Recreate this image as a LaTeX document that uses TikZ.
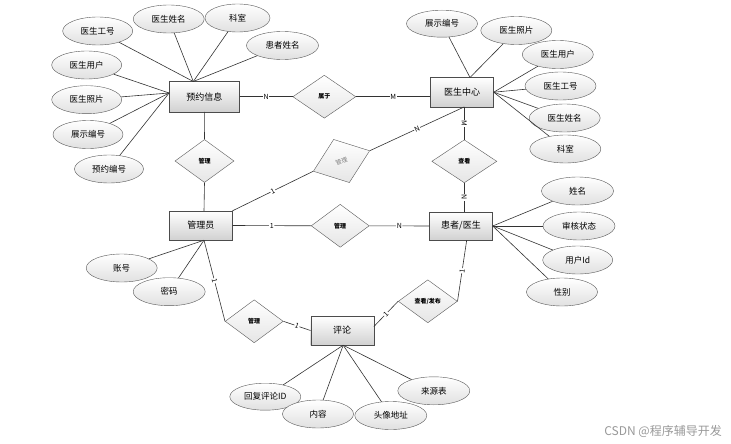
\documentclass[tikz,border=0pt]{standalone}
\usepackage{fontspec}
\setmainfont{Noto Sans CJK SC}
\usetikzlibrary{shapes.geometric,calc}
\tikzset{
  ent/.style={draw=black!70, top color=white, bottom color=black!18, minimum width=63pt, minimum height=29pt, inner sep=0pt, font=\fontsize{9}{9}\selectfont},
  attr/.style={ellipse, draw=black!65, top color=white, bottom color=black!12, minimum width=71pt, minimum height=28pt, inner sep=0pt, font=\fontsize{8.5}{9}\selectfont},
  rel/.style={diamond, draw=black!65, top color=white, bottom color=black!10, minimum width=59pt, minimum height=43pt, inner sep=0pt, font=\fontsize{6}{6}\selectfont\bfseries},
  lnk/.style={draw=black!80, line width=0.6pt},
  card/.style={fill=white, inner sep=0.6pt, font=\fontsize{7}{7}\selectfont, sloped}
}
\begin{document}
\begin{tikzpicture}[x=1pt,y=-1pt]
\fill[white] (0,0) rectangle (731,444);
\useasboundingbox (0,0) rectangle (731,444);

% entities
\node[ent, minimum width=70pt, minimum height=30pt] (yy) at (204.3,96.7) {预约信息};
\node[ent] (zx) at (462,92.2) {医生中心};
\node[ent] (gly) at (200.8,225.5) {管理员};
\node[ent, minimum height=28pt] (hz) at (461,226) {患者/医生};
\node[ent] (pl) at (342.2,330.5) {评论};

% relationships
\node[rel] (d1) at (204.5,161) {管理};
\node[rel, minimum width=63pt] (sy) at (324.3,96.7) {属于};
\node[rel, minimum width=60pt, minimum height=46pt, rotate=20, text=black!50, font=\fontsize{6}{6}\selectfont] (d2) at (341.5,161) {管理};
\node[rel, minimum width=65pt] (ck) at (464.3,161.3) {查看};
\node[rel, minimum width=58pt] (d3) at (340.2,225.8) {管理};
\node[rel] (ckfb) at (427.8,301.3) {查看/发布};
\node[rel, minimum width=58pt] (d4) at (254.2,321.3) {管理};

% attributes of 预约信息
\node[attr, minimum width=70pt] (a1) at (97.7,31) {医生工号};
\node[attr] (a2) at (168.7,19) {医生姓名};
\node[attr, minimum width=65pt] (a3) at (237.5,18) {科室};
\node[attr, minimum width=72pt] (a4) at (282.5,45.5) {患者姓名};
\node[attr, minimum width=70pt] (a5) at (86.7,65) {医生用户};
\node[attr, minimum width=70pt] (a6) at (86.7,99.7) {医生照片};
\node[attr, minimum width=70pt] (a7) at (88,134.5) {展示编号};
\node[attr, minimum width=69pt] (a8) at (109,169) {预约编号};
\foreach \n in {a1,a2,a3,a4} \draw[lnk] (\n) -- ([xshift=-11pt]yy.north);
\foreach \n in {a5,a6,a7,a8} \draw[lnk] (\n) -- ([yshift=3.7pt]yy.west);

% attributes of 医生中心
\node[attr, minimum height=27pt] (b1) at (442,23.7) {展示编号};
\node[attr] (b2) at (516.3,30.5) {医生照片};
\node[attr] (b3) at (557.8,54.5) {医生用户};
\node[attr] (b4) at (560.5,86) {医生工号};
\node[attr] (b5) at (564.7,118) {医生姓名};
\node[attr] (b6) at (565.3,149) {科室};
\foreach \n in {b1,b2} \draw[lnk] (\n) -- ([xshift=8pt]zx.north);
\foreach \n in {b3,b4,b5,b6} \draw[lnk] (\n) -- (zx.east);

% attributes of 患者/医生
\node[attr, minimum width=72pt] (c1) at (577.5,191) {姓名};
\node[attr, minimum width=72pt] (c2) at (579,226) {审核状态};
\node[attr, minimum width=70pt] (c3) at (577.7,260) {用户Id};
\node[attr] (c4) at (562,292) {性别};
\foreach \n in {c1,c2,c3,c4} \draw[lnk] (\n) -- (hz.east);

% attributes of 管理员
\node[attr] (e1) at (121.7,268) {账号};
\node[attr, minimum width=72pt] (e2) at (169.2,291.7) {密码};
\foreach \n in {e1,e2} \draw[lnk] (\n) -- ([xshift=3.2pt]gly.south);

% attributes of 评论
\node[attr, minimum height=27pt] (f1) at (265.3,396.7) {回复评论ID};
\node[attr] (f2) at (318,414) {内容};
\node[attr, minimum width=72pt] (f4) at (433.8,390.8) {来源表};
\node[attr, minimum width=72pt] (f3) at (390.8,415.5) {头像地址};
\foreach \n in {f1,f2,f3,f4} \draw[lnk] (\n) -- ([xshift=1pt]pl.south);

% relationship links
\draw[lnk] (yy.south) -- (d1.north);
\draw[lnk] (d1.south) -- ([xshift=3.2pt]gly.north);
\draw[lnk] (yy.east) -- node[card]{N} (sy.west);
\draw[lnk] (sy.east) -- node[card]{M} (sy.east -| zx.west);
\draw[lnk] ([xshift=2.3pt]zx.south) -- node[card]{M} (ck.north);
\draw[lnk] (ck.south) -- node[card]{N} (ck.south |- hz.north);
\draw[lnk] (gly.north east) -- node[card]{1} (d2.west);
\draw[lnk] (d2.east) -- node[card]{N} ([xshift=2.3pt]zx.south);
\draw[lnk] (gly.east) -- node[card]{1} (d3.west);
\draw[lnk] (d3.east) -- node[card]{N} (hz.west);
\draw[lnk] ([xshift=3.2pt]gly.south) -- node[card]{1} (d4.west);
\draw[lnk] (d4.east) -- node[card]{1} (pl.west);
\draw[lnk] ([xshift=5.7pt]hz.south) -- node[card]{1} (ckfb.east);
\draw[lnk] (ckfb.west) -- node[card]{1} ([yshift=4pt]pl.east);

% watermark
\node[anchor=east, text=black!40, font=\fontsize{12}{12}\selectfont, inner sep=0pt] (wm) at (722,431) {CSDN @程序辅导开发};
\end{tikzpicture}
\end{document}
